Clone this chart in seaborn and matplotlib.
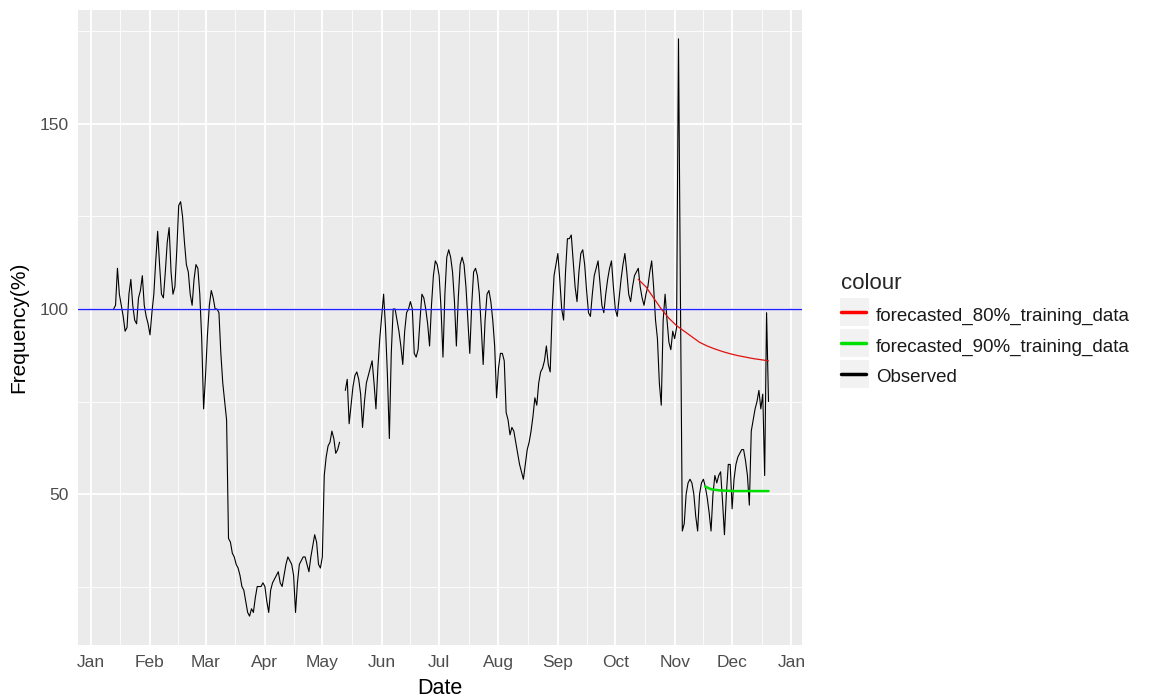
import numpy as np
import pandas as pd
import matplotlib
matplotlib.use("Agg")
import matplotlib.pyplot as plt
from matplotlib.lines import Line2D
from matplotlib.patches import Rectangle
import seaborn as sns

nan = np.nan

# ---------------- data ----------------
obs_start = "2020-01-13"
observed = [
    100, 101, 111, 104, 101, 98, 94,
    95, 104, 108, 101, 97, 96, 103,
    105, 109, 101, 98, 96, 93, 99,
    104, 113, 121, 112, 104, 103, 110,
    118, 122, 110, 104, 106, 116, 128,
    129, 125, 118, 112, 110, 104, 101,
    108, 112, 111, 104, 92, 73, 82,
    93, 101, 105, 103, 100, 100, 99,
    88, 80, 75, 70, 38, 37, 34,
    33, 31, 30, 28, 25, 24, 21,
    18, 17, 19, 18, 22, 25, 25,
    25, 26, 25, 21, 18, 24, 26,
    27, 28, 29, 26, 25, 28, 31,
    33, 32, 31, 28, 18, 26, 31,
    32, 33, 33, 31, 29, 33, 36,
    39, 37, 31, 30, 33, 55, 60,
    63, 64, 67, 65, 61, 62, 64,
    nan, nan, 78, 81, 69, 74, 79,
    82, 83, 81, 77, 68, 75, 80,
    82, 84, 86, 80, 73, 84, 92,
    98, 104, 95, 82, 65, 88, 100,
    100, 97, 94, 90, 85, 94, 99,
    100, 102, 100, 88, 87, 89, 97,
    104, 103, 100, 96, 90, 101, 109,
    113, 112, 109, 100, 87, 104, 114,
    116, 114, 110, 102, 90, 103, 112,
    114, 112, 106, 97, 88, 101, 110,
    111, 109, 104, 95, 85, 97, 104,
    105, 102, 97, 90, 76, 84, 88,
    88, 86, 72, 70, 66, 68, 67,
    64, 61, 58, 56, 54, 58, 62,
    64, 67, 71, 76, 74, 80, 83,
    84, 86, 90, 85, 83, 99, 109,
    112, 115, 108, 100, 97, 110, 119,
    119, 120, 113, 106, 102, 110, 115,
    116, 112, 105, 99, 98, 104, 109,
    111, 113, 107, 101, 99, 104, 108,
    111, 113, 106, 100, 98, 103, 108,
    112, 115, 110, 104, 102, 106, 109,
    110, 111, 106, 103, 101, 104, 106,
    110, 113, 106, 97, 92, 80, 74,
    97, 104, 97, 91, 89, 94, 92,
    95, 173, 104, 40, 42, 50, 53,
    54, 53, 50, 44, 40, 50, 53,
    54, 52, 49, 45, 40, 50, 55,
    53, 55, 56, 48, 39, 50, 58,
    58, 46, 54, 58, 60, 61, 62,
    62, 59, 55, 47, 67, 70, 73,
    75, 78, 73, 77, 55, 99, 75,
]

f80_dates = ["2020-10-13", "2020-10-17", "2020-10-21", "2020-10-25", "2020-10-29",
             "2020-11-02", "2020-11-06", "2020-11-10", "2020-11-14", "2020-11-18",
             "2020-11-22", "2020-11-26", "2020-11-30", "2020-12-04", "2020-12-08",
             "2020-12-12", "2020-12-16", "2020-12-20"]
f80_values = [108, 106, 103, 100, 97.5, 95.5, 94, 92.5, 91, 90,
              89.2, 88.5, 87.9, 87.4, 87, 86.6, 86.3, 86]

f90_dates = ["2020-11-17", "2020-11-20", "2020-11-24", "2020-11-28",
             "2020-12-02", "2020-12-08", "2020-12-14", "2020-12-20"]
f90_values = [52, 51.3, 51, 50.9, 50.8, 50.8, 50.8, 50.8]

reference_level = 100

series_labels = ["forecasted_80%_training_data", "forecasted_90%_training_data", "Observed"]
series_colors = ["#FF0000", "#00E000", "#000000"]

month_labels = ["Jan", "Feb", "Mar", "Apr", "May", "Jun", "Jul",
                "Aug", "Sep", "Oct", "Nov", "Dec", "Jan"]
y_ticks = [50, 100, 150]

# ---------------- frames ----------------
obs_dates = pd.date_range(obs_start, periods=len(observed), freq="D")
obs_df = pd.DataFrame({"date": obs_dates, "value": observed})
obs_df["segment"] = obs_df["value"].isna().cumsum()
obs_df = obs_df.dropna()

f80_df = pd.DataFrame({"date": pd.to_datetime(f80_dates), "value": f80_values})
f90_df = pd.DataFrame({"date": pd.to_datetime(f90_dates), "value": f90_values})

# ---------------- style ----------------
sns.set_theme(style="darkgrid", rc={
    "axes.facecolor": "#EBEBEB",
    "grid.color": "white",
    "figure.facecolor": "white",
})
plt.rcParams["font.family"] = ["Liberation Sans", "DejaVu Sans"]

W, H = 1149, 698
fig = plt.figure(figsize=(W / 100, H / 100), dpi=100)
ax = fig.add_axes([78 / W, 53 / H, 724 / W, 635 / H])

# lines
sns.lineplot(data=obs_df, x="date", y="value", units="segment", estimator=None,
             color=series_colors[2], linewidth=0.8, ax=ax, legend=False)
ax.axhline(reference_level, color="#2222FF", linewidth=1.0, zorder=3)
sns.lineplot(data=f80_df, x="date", y="value", color="#E01010",
             linewidth=0.9, ax=ax, legend=False, zorder=4)
sns.lineplot(data=f90_df, x="date", y="value", color=series_colors[1],
             linewidth=1.8, ax=ax, legend=False, zorder=4)

# axes limits
x0 = pd.Timestamp("2020-01-01")
ax.set_xlim(x0 - pd.Timedelta(days=6.6), x0 + pd.Timedelta(days=371.5))
ax.set_ylim(9.2, 180.8)

# ticks and grid
major_dates = pd.date_range("2020-01-01", periods=13, freq="MS")
ax.set_xticks(major_dates)
ax.set_xticklabels(month_labels)
minor_dates = [major_dates[i] + (major_dates[i + 1] - major_dates[i]) / 2
               for i in range(len(major_dates) - 1)]
ax.set_xticks(minor_dates, minor=True)
ax.set_yticks(y_ticks)
ax.set_yticks([25, 75, 125, 175], minor=True)

ax.grid(which="major", color="white", linewidth=1.3)
ax.grid(which="minor", color="white", linewidth=0.6)
ax.set_axisbelow(True)
for s in ax.spines.values():
    s.set_visible(False)

ax.tick_params(which="major", length=4, width=0.8, color="#333333",
               labelcolor="#4D4D4D", labelsize=12.5, pad=3)
ax.tick_params(which="minor", length=0)

ax.set_xlabel("Date", fontsize=15.5, color="black", labelpad=6)
ax.set_ylabel("Frequency(%)", fontsize=15, color="black", labelpad=8)

# legend
handles = [Line2D([], [], color=c, linewidth=2.5) for c in series_colors]
leg = fig.legend(handles, series_labels, title="colour", loc="center left",
                 bbox_to_anchor=(832 / W, 1 - 330 / H), frameon=False,
                 fontsize=13.5, title_fontsize=16, handlelength=1.3,
                 handleheight=1.4, handletextpad=0.55, labelspacing=0.5,
                 borderpad=0, alignment="left")
for t in leg.get_texts():
    t.set_color("#1a1a1a")

# legend key backgrounds (ggplot style)
fig.canvas.draw()
renderer = fig.canvas.get_renderer()
for line in leg.get_lines():
    bb = line.get_window_extent(renderer)
    cy = (bb.y0 + bb.y1) / 2
    cx = (bb.x0 + bb.x1) / 2
    rect = Rectangle(((cx - 15) / W, (cy - 14.5) / H), 30 / W, 29 / H,
                     transform=fig.transFigure, facecolor="#F2F2F2",
                     edgecolor="white", linewidth=0.8, zorder=0)
    fig.patches.append(rect)

fig.savefig("out.png", dpi=100)
